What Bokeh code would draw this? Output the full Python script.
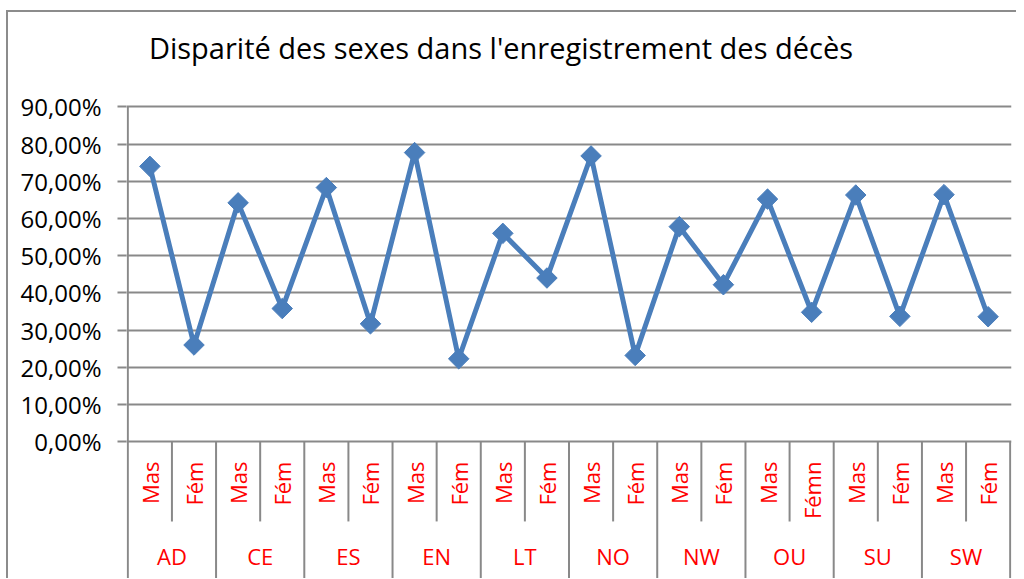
import math
from bokeh.plotting import figure
from bokeh.models import Range1d, FixedTicker
from bokeh.core.properties import value
from bokeh.embed import file_html
from bokeh.resources import INLINE

# ---- data ----
regions = ["AD", "CE", "ES", "EN", "LT", "NO", "NW", "OU", "SU", "SW"]
sex_labels = ["Mas", "Fém", "Mas", "Fém", "Mas", "Fém", "Mas", "Fém", "Mas", "Fém",
              "Mas", "Fém", "Mas", "Fém", "Mas", "Fémn", "Mas", "Fém", "Mas", "Fém"]
values = [74.0, 26.0, 64.2, 35.8, 68.3, 31.7, 77.7, 22.3, 56.0, 44.0,
          76.8, 23.2, 57.8, 42.2, 65.2, 34.8, 66.3, 33.7, 66.4, 33.6]
y_ticks = [0, 10, 20, 30, 40, 50, 60, 70, 80, 90]
y_tick_labels = ["0,00%", "10,00%", "20,00%", "30,00%", "40,00%",
                 "50,00%", "60,00%", "70,00%", "80,00%", "90,00%"]
title_text = "Disparité des sexes dans l'enregistrement des décès"

# ---- layout constants (positions only) ----
FONT = "Open Sans"
GRID = "#898989"
BLUE = "#4A7EBB"
RED = "#FF0000"
Y_MIN = -36.73
Y_MAX = 115.34
X_PAD = 0.03
TITLE_X = 8.458
TITLE_Y = 105.94
SUB_LABEL_Y = -5.3
SHORT_SEP_Y = -21.4
GROUP_LABEL_Y = -30.8

n = len(values)
xs = [i + 0.5 for i in range(n)]
group_x = [2 * i + 1.0 for i in range(len(regions))]

p = figure(
    frame_width=885, frame_height=566,
    x_range=Range1d(-X_PAD, n + X_PAD), y_range=Range1d(Y_MIN, Y_MAX),
    x_axis_location=None,
    output_backend="svg", toolbar_location=None,
    min_border_left=118, min_border_right=5, min_border_top=0, min_border_bottom=0,
)
p.outline_line_color = None
p.background_fill_color = "white"
p.border_fill_color = "white"

p.xgrid.visible = False
p.ygrid.ticker = FixedTicker(ticks=y_ticks)
p.ygrid.grid_line_color = GRID
p.ygrid.grid_line_width = 2

ax = p.yaxis[0]
ax.ticker = FixedTicker(ticks=y_ticks)
ax.major_label_overrides = {t: lab for t, lab in zip(y_ticks, y_tick_labels)}
ax.major_label_text_font = FONT
ax.major_label_text_font_size = "24px"
ax.major_label_text_color = "#000000"
ax.major_label_standoff = 16
ax.major_tick_out = 9
ax.major_tick_in = 0
ax.minor_tick_out = 0
ax.minor_tick_in = 0
ax.major_tick_line_color = GRID
ax.major_tick_line_width = 2
ax.axis_line_color = None

# title
p.text(x=[TITLE_X], y=[TITLE_Y], text=[title_text], text_align="center",
       text_baseline="alphabetic", text_color="#000000",
       text_font=value(FONT), text_font_size="29px")

# value axis line and category separators
sep_short = [float(i) for i in range(1, n, 2)]
sep_long = [float(i) for i in range(2, n + 1, 2)]
p.segment(x0=[0.0], y0=[y_ticks[-1]], x1=[0.0], y1=[Y_MIN], line_color=GRID, line_width=2)
p.segment(x0=sep_short, y0=[0] * len(sep_short), x1=sep_short, y1=[SHORT_SEP_Y] * len(sep_short),
          line_color=GRID, line_width=2)
p.segment(x0=sep_long, y0=[0] * len(sep_long), x1=sep_long, y1=[Y_MIN] * len(sep_long),
          line_color=GRID, line_width=2)

# category labels
p.text(x=xs, y=[SUB_LABEL_Y] * n, text=sex_labels, angle=math.pi / 2,
       text_align="right", text_baseline="middle", text_color=RED,
       text_font=value(FONT), text_font_size="22px")
p.text(x=group_x, y=[GROUP_LABEL_Y] * len(regions), text=regions,
       text_align="center", text_baseline="middle", text_color=RED,
       text_font=value(FONT), text_font_size="22px")

# series
p.line(xs, values, line_color=BLUE, line_width=5, line_join="round")
p.scatter(xs, values, marker="square", angle=math.pi / 4, size=14.5,
          fill_color=BLUE, line_color=BLUE)

p.styles = {"border-top": "2px solid #8c8c8c", "border-left": "2px solid #8c8c8c",
            "margin-left": "6px", "margin-top": "10px"}

open("out.html", "w").write(file_html(p, INLINE))
